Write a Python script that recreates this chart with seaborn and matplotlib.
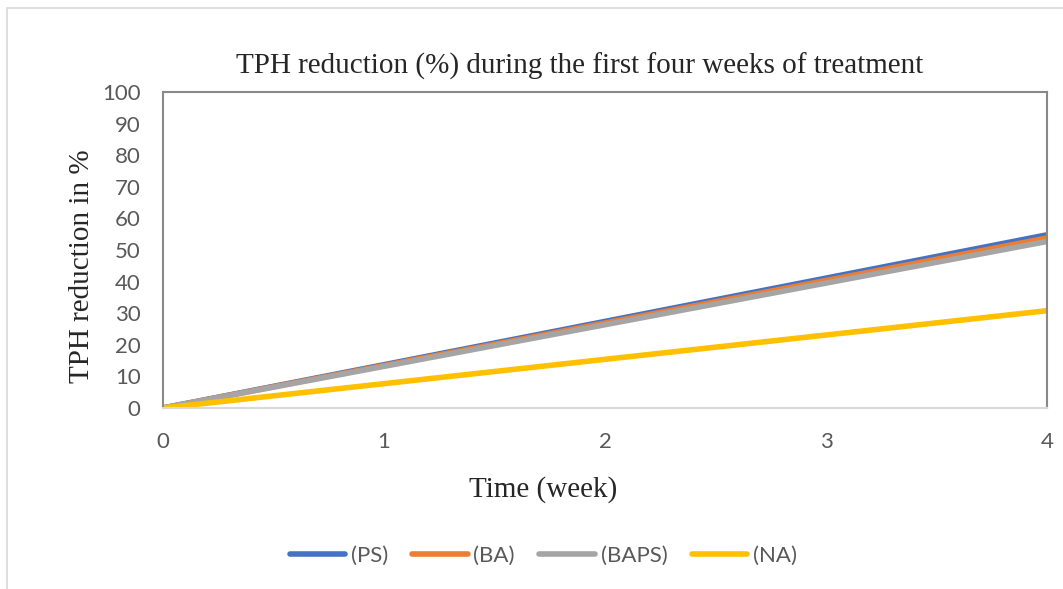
import matplotlib
matplotlib.use('Agg')
import matplotlib.pyplot as plt
import seaborn as sns
import pandas as pd
from matplotlib.patches import Rectangle

# data: TPH reduction (%) at start and end of 4 weeks
weeks = [0, 4]
ps_vals = [0, 54.8]
ba_vals = [0, 53.8]
baps_vals = [0, 52.7]
na_vals = [0, 30.8]

series_names = ['(PS)', '(BA)', '(BAPS)', '(NA)']
series_colors = ['#4472C4', '#ED7D31', '#A5A5A5', '#FFC000']

df = pd.DataFrame({
    'Week': weeks * 4,
    'Reduction': ps_vals + ba_vals + baps_vals + na_vals,
    'Series': [s for s in series_names for _ in weeks],
})

sns.set_style('white')
plt.rcParams['font.family'] = ['Lato', 'DejaVu Sans']

fig = plt.figure(figsize=(10.63, 5.89), dpi=100)
ax = fig.add_axes([0.1533, 0.3073, 0.8317, 0.5365])

sns.lineplot(data=df, x='Week', y='Reduction', hue='Series', hue_order=series_names,
             palette=series_colors, linewidth=4, ax=ax, legend=False,
             solid_capstyle='round')

ax.set_xlim(0, 4)
ax.set_ylim(0, 100)
ax.set_xticks([0, 1, 2, 3, 4])
ax.set_yticks(range(0, 101, 10))
ax.tick_params(axis='both', length=0, labelsize=16, colors='#595959')
ax.tick_params(axis='x', pad=17)
ax.tick_params(axis='y', pad=16)

for side in ['left', 'top', 'right']:
    ax.spines[side].set_color('#898989')
    ax.spines[side].set_linewidth(1.5)
ax.spines['bottom'].set_color('#D9D9D9')
ax.spines['bottom'].set_linewidth(1.5)

# title and axis labels sit slightly off-centre, as in the original
ax.set_title('TPH reduction (%) during the first four weeks of treatment',
             family='Liberation Serif', fontsize=21, pad=13, x=0.471)
ax.set_xlabel('Time (week)', family='Liberation Serif', fontsize=21)
ax.xaxis.set_label_coords(0.43, -0.215)
ax.set_ylabel('TPH reduction in %', family='Liberation Serif', fontsize=21, labelpad=5)
ax.yaxis.label.set_y(0.45)

# legend at the bottom
handles = [plt.Line2D([0], [0], color=c, lw=4, solid_capstyle='round') for c in series_colors]
leg = fig.legend(handles, series_names, loc='center', bbox_to_anchor=(0.511, 0.056),
                 ncol=4, frameon=False, fontsize=16, handlelength=2.5,
                 handletextpad=0.25, columnspacing=1.1)
for t in leg.get_texts():
    t.set_color('#595959')

# outer chart border
fig.patches.append(Rectangle((0.0066, -0.01), 1.0, 0.997, transform=fig.transFigure,
                             fill=False, edgecolor='#D9D9D9', linewidth=1.2))

fig.savefig('out.png', dpi=100)
